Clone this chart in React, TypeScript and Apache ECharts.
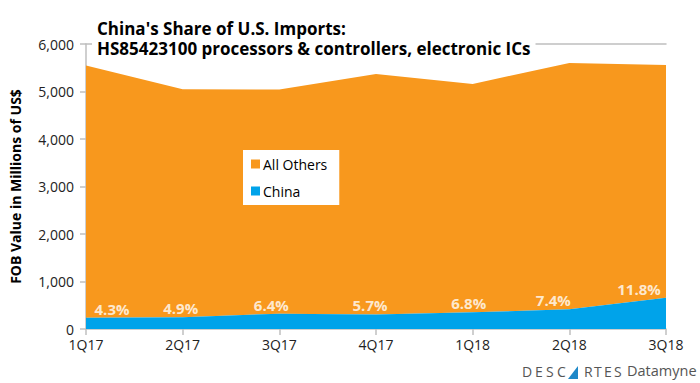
import React, { useEffect, useRef } from "react";
import * as echarts from "echarts";

const quarters = ["1Q17", "2Q17", "3Q17", "4Q17", "1Q18", "2Q18", "3Q18"];
const chinaValues = [239, 247, 323, 306, 351, 414, 656];
const allOthersValues = [5311, 4803, 4717, 5064, 4809, 5186, 4904];
const chinaShareLabels = ["4.3%", "4.9%", "6.4%", "5.7%", "6.8%", "7.4%", "11.8%"];
const yTicks = [0, 1000, 2000, 3000, 4000, 5000, 6000];

const labelOffsets: [number, number][] = [
  [26, 0], [-2, 0], [-8, 0], [-6, 0], [-4, 0], [-16, 0], [-27, 0],
];

const ORANGE = "#F8981D";
const BLUE = "#00A3EA";
const FONT = "Open Sans";

export default function App() {
  const ref = useRef<HTMLDivElement>(null);
  useEffect(() => {
    document.body.style.margin = "0";
    if (!ref.current) return;
    const chart = echarts.init(ref.current, undefined, { renderer: "svg" });
    const logoLetters1 = ["D", "E", "S", "C"];
    const logoLetters2 = ["R", "T", "E", "S"];
    const logoX1 = [522, 535, 546, 557];
    const logoX2 = [584, 594, 604, 614];
    const graphics: any[] = [];
    logoLetters1.forEach((l, i) =>
      graphics.push({
        type: "text", left: logoX1[i], top: 364,
        style: { text: l, fill: "#555", font: `14px ${FONT}` },
      })
    );
    logoLetters2.forEach((l, i) =>
      graphics.push({
        type: "text", left: logoX2[i], top: 364,
        style: { text: l, fill: "#555", font: `14px ${FONT}` },
      })
    );
    graphics.push({
      type: "polygon",
      shape: { points: [[568, 379], [578, 366], [578, 379]] },
      style: { fill: "#1E88C8" },
    });
    graphics.push({
      type: "text", left: 627, top: 363,
      style: { text: "Datamyne", fill: "#555", font: `14.5px ${FONT}` },
    });

    chart.setOption({
      animation: false,
      title: {
        text: "China's Share of U.S. Imports:\nHS85423100 processors & controllers, electronic ICs",
        left: 92,
        top: 16,
        padding: [2, 5, 2, 5],
        backgroundColor: "#fff",
        textStyle: {
          fontFamily: FONT, fontWeight: "bold", fontSize: 17, color: "#000", lineHeight: 20,
        },
        z: 10,
      },
      legend: {
        orient: "vertical",
        left: 243,
        top: 150,
        backgroundColor: "#fff",
        padding: [7, 12, 7, 8],
        itemGap: 13,
        itemWidth: 9,
        itemHeight: 9,
        icon: "rect",
        data: ["All Others", "China"],
        textStyle: { fontFamily: FONT, fontSize: 14, color: "#000", padding: [0, 0, 0, -2] },
      },
      grid: { left: 81, right: 34, top: 44, bottom: 54 },
      xAxis: [
        {
          type: "category",
          data: quarters,
          boundaryGap: false,
          axisLine: { lineStyle: { color: "#bfbfbf", width: 1.5 } },
          axisTick: { show: true, inside: false, length: 6, lineStyle: { color: "#bfbfbf", width: 1.5 } },
          axisLabel: { fontFamily: FONT, fontSize: 14, color: "#222", margin: 8 },
        },
        {
          type: "category",
          data: quarters,
          boundaryGap: false,
          position: "top",
          axisLine: { lineStyle: { color: "#bfbfbf", width: 1.5 } },
          axisTick: { show: false },
          axisLabel: { show: false },
        },
      ],
      yAxis: {
        type: "value",
        min: yTicks[0],
        max: yTicks[yTicks.length - 1],
        interval: 1000,
        name: "FOB Value in Millions of US$",
        nameLocation: "middle",
        nameGap: 64,
        nameTextStyle: { fontFamily: FONT, fontSize: 14, fontWeight: "bold", color: "#000" },
        axisLine: { show: true, lineStyle: { color: "#bfbfbf", width: 1.5 } },
        axisTick: { show: true, length: 6, lineStyle: { color: "#bfbfbf", width: 1.5 } },
        splitLine: { show: false },
        axisLabel: {
          fontFamily: FONT, fontSize: 14, color: "#222", margin: 12,
          formatter: (v: number) => v.toLocaleString("en-US"),
        },
      },
      series: [
        {
          name: "China",
          type: "line",
          stack: "total",
          data: chinaValues,
          symbol: "none",
          lineStyle: { width: 0 },
          areaStyle: { color: BLUE, opacity: 1 },
          itemStyle: { color: BLUE },
          z: 3,
        },
        {
          name: "All Others",
          type: "line",
          stack: "total",
          data: allOthersValues,
          symbol: "none",
          lineStyle: { width: 0 },
          areaStyle: { color: ORANGE, opacity: 1 },
          itemStyle: { color: ORANGE },
          z: 2,
        },
        {
          name: "China share",
          type: "scatter",
          data: chinaValues.map((v, i) => ({
            value: v,
            label: {
              show: true,
              position: "top",
              distance: 1,
              offset: labelOffsets[i],
              formatter: chinaShareLabels[i],
              color: "#fff",
              fontFamily: FONT,
              fontWeight: "bold",
              fontSize: 15,
            },
          })),
          symbolSize: 1,
          itemStyle: { color: "rgba(0,0,0,0)" },
          silent: true,
          z: 5,
        },
      ],
      graphic: graphics,
    });
    return () => chart.dispose();
  }, []);
  return <div ref={ref} style={{ width: 700, height: 383 }} />;
}
